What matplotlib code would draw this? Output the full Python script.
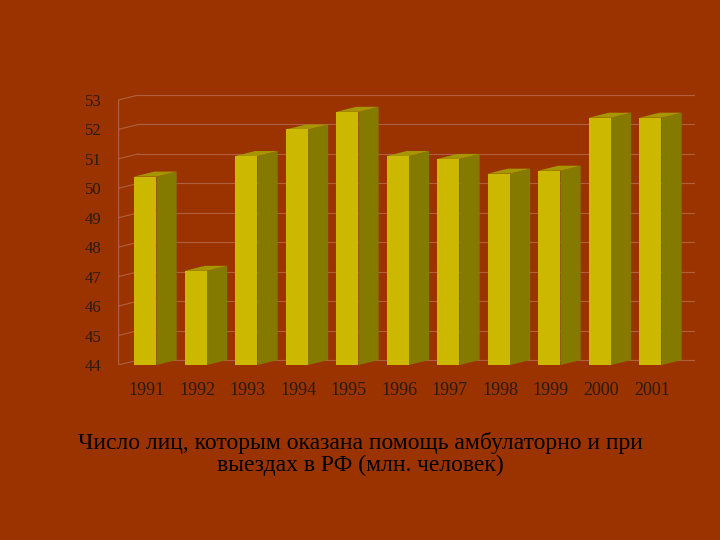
import matplotlib.pyplot as plt
from matplotlib.patches import Polygon, Rectangle

years = ['1991', '1992', '1993', '1994', '1995', '1996', '1997', '1998', '1999', '2000', '2001']
values = [50.4, 47.2, 51.1, 52.0, 52.6, 51.1, 51.0, 50.5, 50.6, 52.4, 52.4]
yticks = list(range(44, 54))

bg = '#9A3300'
front = '#CDB800'
side = '#857A00'
top = '#A89600'
dx, dy = 0.40, 0.17
w = 0.44

fig = plt.figure(figsize=(7.2, 5.4), dpi=100, facecolor=bg)
ax = fig.add_axes([0.164, 0.324, 0.801, 0.5])
ax.set_facecolor(bg)
ax.set_xlim(-0.32, 11.1)
ax.set_ylim(44, 53.0 + dy)

# back wall grid
for t in yticks:
    ax.plot([-0.32 + dx, 11.1], [t + dy, t + dy], color='#B06040', lw=0.8, zorder=0)
    ax.plot([-0.32, -0.32 + dx], [t, t + dy], color='#B06040', lw=0.8, zorder=0)
ax.plot([-0.32, -0.32], [44, 53], color='#B06040', lw=1.0, zorder=0)

for i, v in enumerate(values):
    x0 = i
    ax.add_patch(Rectangle((x0, 44), w, v - 44, facecolor=front, edgecolor='none', zorder=3))
    ax.add_patch(Polygon([(x0 + w, 44), (x0 + w + dx, 44 + dy), (x0 + w + dx, v + dy), (x0 + w, v)],
                         facecolor=side, edgecolor='none', zorder=2))
    ax.add_patch(Polygon([(x0, v), (x0 + dx, v + dy), (x0 + w + dx, v + dy), (x0 + w, v)],
                         facecolor=top, edgecolor='none', zorder=2))

for s in ax.spines.values():
    s.set_visible(False)
ax.set_yticks(yticks)
ax.set_yticklabels([str(t) for t in yticks], fontsize=12, color='#2a1a10', family='Liberation Serif')
ax.set_xticks([i + 0.25 for i in range(len(years))])
ax.set_xticklabels(years, fontsize=13, color='#2a1a10', family='Liberation Serif')
ax.tick_params(length=0, pad=12)

fig.text(0.5, 0.16, 'Число лиц, которым оказана помощь амбулаторно и при\nвыездах в РФ (млн. человек)',
         ha='center', va='center', fontsize=17, color='black', family='Liberation Serif', linespacing=1.05)

fig.savefig('out.png', dpi=100, facecolor=bg)
